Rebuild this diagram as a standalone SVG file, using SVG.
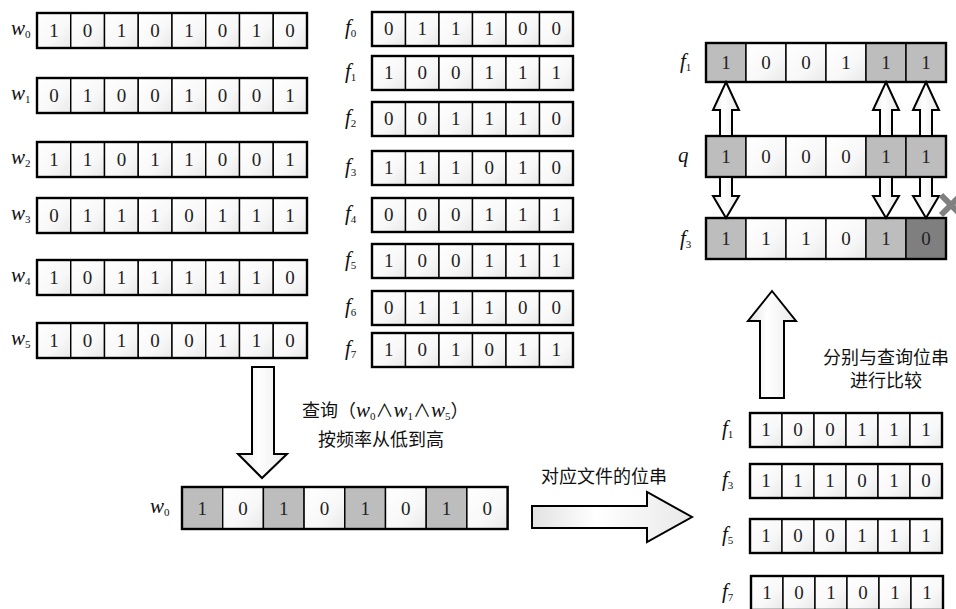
<svg xmlns="http://www.w3.org/2000/svg" xmlns:xlink="http://www.w3.org/1999/xlink" width="956" height="609" viewBox="0 0 956 609">
<style>
.cell{fill:url(#cg);stroke:#000;stroke-width:1.4}
.g1{fill:#bdbdbd;stroke:#000;stroke-width:1.4}
.g2{fill:#7f7f7f;stroke:#000;stroke-width:1.4}
.wc{fill:url(#cg);stroke:#000;stroke-width:1.4}
.frame{fill:none;stroke:#000;stroke-width:2.4}
.d{font-family:"Liberation Serif",serif;font-size:19px;text-anchor:middle;fill:#222}
.lab{font-family:"Liberation Serif",serif;font-style:italic;font-size:21px;fill:#111}
.sub{font-style:normal;font-size:11px}
.cjk{font-family:"Liberation Serif","Noto Sans CJK SC",serif;font-size:18px;fill:#111}
.arrow{fill:url(#ag);stroke:#000;stroke-width:2;stroke-linejoin:miter}
</style>
<defs>
<linearGradient id="cg" x1="0" y1="0" x2="1" y2="1">
<stop offset="0" stop-color="#ffffff"/><stop offset="0.6" stop-color="#f8f8f8"/><stop offset="1" stop-color="#e8e8e8"/>
</linearGradient>
<linearGradient id="ag" x1="0" y1="0" x2="1" y2="0">
<stop offset="0" stop-color="#e2e2e2"/><stop offset="0.4" stop-color="#ffffff"/><stop offset="1" stop-color="#e8e8e8"/>
</linearGradient>
<g id="r8">
<rect class="cell" x="0" y="0" width="33.75" height="35"/><rect class="cell" x="33.75" y="0" width="33.75" height="35"/><rect class="cell" x="67.5" y="0" width="33.75" height="35"/><rect class="cell" x="101.25" y="0" width="33.75" height="35"/><rect class="cell" x="135" y="0" width="33.75" height="35"/><rect class="cell" x="168.75" y="0" width="33.75" height="35"/><rect class="cell" x="202.5" y="0" width="33.75" height="35"/><rect class="cell" x="236.25" y="0" width="33.75" height="35"/>
<rect class="frame" x="0" y="0" width="270" height="35"/>
</g>
<g id="r6a">
<rect class="cell" x="0" y="0" width="33.5" height="34"/><rect class="cell" x="33.5" y="0" width="33.5" height="34"/><rect class="cell" x="67" y="0" width="33.5" height="34"/><rect class="cell" x="100.5" y="0" width="33.5" height="34"/><rect class="cell" x="134" y="0" width="33.5" height="34"/><rect class="cell" x="167.5" y="0" width="33.5" height="34"/>
<rect class="frame" x="0" y="0" width="201" height="34"/>
</g>
<g id="r6b">
<rect class="cell" x="0" y="0" width="32" height="34"/><rect class="cell" x="32" y="0" width="32" height="34"/><rect class="cell" x="64" y="0" width="32" height="34"/><rect class="cell" x="96" y="0" width="32" height="34"/><rect class="cell" x="128" y="0" width="32" height="34"/><rect class="cell" x="160" y="0" width="32" height="34"/>
<rect class="frame" x="0" y="0" width="192" height="34"/>
</g>
</defs>
<rect width="956" height="609" fill="#fff"/>

<!-- left word bit strings -->
<g id="w0">
<text class="lab" x="11" y="35">w<tspan class="sub" dy="3">0</tspan></text>
<use xlink:href="#r8" x="37" y="13"/>
<text class="d" x="53.9" y="37">1</text><text class="d" x="87.6" y="37">0</text><text class="d" x="121.4" y="37">1</text><text class="d" x="155.1" y="37">0</text><text class="d" x="188.9" y="37">1</text><text class="d" x="222.6" y="37">0</text><text class="d" x="256.4" y="37">1</text><text class="d" x="290.1" y="37">0</text>
</g>
<g id="w1">
<text class="lab" x="11" y="100">w<tspan class="sub" dy="3">1</tspan></text>
<use xlink:href="#r8" x="37" y="78"/>
<text class="d" x="53.9" y="102">0</text><text class="d" x="87.6" y="102">1</text><text class="d" x="121.4" y="102">0</text><text class="d" x="155.1" y="102">0</text><text class="d" x="188.9" y="102">1</text><text class="d" x="222.6" y="102">0</text><text class="d" x="256.4" y="102">0</text><text class="d" x="290.1" y="102">1</text>
</g>
<g id="w2">
<text class="lab" x="11" y="164">w<tspan class="sub" dy="3">2</tspan></text>
<use xlink:href="#r8" x="37" y="142"/>
<text class="d" x="53.9" y="166">1</text><text class="d" x="87.6" y="166">1</text><text class="d" x="121.4" y="166">0</text><text class="d" x="155.1" y="166">1</text><text class="d" x="188.9" y="166">1</text><text class="d" x="222.6" y="166">0</text><text class="d" x="256.4" y="166">0</text><text class="d" x="290.1" y="166">1</text>
</g>
<g id="w3">
<text class="lab" x="11" y="220">w<tspan class="sub" dy="3">3</tspan></text>
<use xlink:href="#r8" x="37" y="198"/>
<text class="d" x="53.9" y="222">0</text><text class="d" x="87.6" y="222">1</text><text class="d" x="121.4" y="222">1</text><text class="d" x="155.1" y="222">1</text><text class="d" x="188.9" y="222">0</text><text class="d" x="222.6" y="222">1</text><text class="d" x="256.4" y="222">1</text><text class="d" x="290.1" y="222">1</text>
</g>
<g id="w4">
<text class="lab" x="11" y="282">w<tspan class="sub" dy="3">4</tspan></text>
<use xlink:href="#r8" x="37" y="260"/>
<text class="d" x="53.9" y="284">1</text><text class="d" x="87.6" y="284">0</text><text class="d" x="121.4" y="284">1</text><text class="d" x="155.1" y="284">1</text><text class="d" x="188.9" y="284">1</text><text class="d" x="222.6" y="284">1</text><text class="d" x="256.4" y="284">1</text><text class="d" x="290.1" y="284">0</text>
</g>
<g id="w5">
<text class="lab" x="11" y="345">w<tspan class="sub" dy="3">5</tspan></text>
<use xlink:href="#r8" x="37" y="323"/>
<text class="d" x="53.9" y="347">1</text><text class="d" x="87.6" y="347">0</text><text class="d" x="121.4" y="347">1</text><text class="d" x="155.1" y="347">0</text><text class="d" x="188.9" y="347">0</text><text class="d" x="222.6" y="347">1</text><text class="d" x="256.4" y="347">1</text><text class="d" x="290.1" y="347">0</text>
</g>

<!-- file bit strings -->
<g id="f0">
<text class="lab" x="345" y="34">f<tspan class="sub" dy="3">0</tspan></text>
<use xlink:href="#r6a" x="372" y="12"/>
<text class="d" x="388.75" y="35">0</text><text class="d" x="422.25" y="35">1</text><text class="d" x="455.75" y="35">1</text><text class="d" x="489.25" y="35">1</text><text class="d" x="522.75" y="35">0</text><text class="d" x="556.25" y="35">0</text>
</g>
<g id="f1">
<text class="lab" x="345" y="78">f<tspan class="sub" dy="3">1</tspan></text>
<use xlink:href="#r6a" x="372" y="56"/>
<text class="d" x="388.75" y="79">1</text><text class="d" x="422.25" y="79">0</text><text class="d" x="455.75" y="79">0</text><text class="d" x="489.25" y="79">1</text><text class="d" x="522.75" y="79">1</text><text class="d" x="556.25" y="79">1</text>
</g>
<g id="f2">
<text class="lab" x="345" y="124">f<tspan class="sub" dy="3">2</tspan></text>
<use xlink:href="#r6a" x="372" y="102"/>
<text class="d" x="388.75" y="125">0</text><text class="d" x="422.25" y="125">0</text><text class="d" x="455.75" y="125">1</text><text class="d" x="489.25" y="125">1</text><text class="d" x="522.75" y="125">1</text><text class="d" x="556.25" y="125">0</text>
</g>
<g id="f3">
<text class="lab" x="345" y="173">f<tspan class="sub" dy="3">3</tspan></text>
<use xlink:href="#r6a" x="372" y="151"/>
<text class="d" x="388.75" y="174">1</text><text class="d" x="422.25" y="174">1</text><text class="d" x="455.75" y="174">1</text><text class="d" x="489.25" y="174">0</text><text class="d" x="522.75" y="174">1</text><text class="d" x="556.25" y="174">0</text>
</g>
<g id="f4">
<text class="lab" x="345" y="220">f<tspan class="sub" dy="3">4</tspan></text>
<use xlink:href="#r6a" x="372" y="198"/>
<text class="d" x="388.75" y="221">0</text><text class="d" x="422.25" y="221">0</text><text class="d" x="455.75" y="221">0</text><text class="d" x="489.25" y="221">1</text><text class="d" x="522.75" y="221">1</text><text class="d" x="556.25" y="221">1</text>
</g>
<g id="f5">
<text class="lab" x="345" y="266">f<tspan class="sub" dy="3">5</tspan></text>
<use xlink:href="#r6a" x="372" y="244"/>
<text class="d" x="388.75" y="267">1</text><text class="d" x="422.25" y="267">0</text><text class="d" x="455.75" y="267">0</text><text class="d" x="489.25" y="267">1</text><text class="d" x="522.75" y="267">1</text><text class="d" x="556.25" y="267">1</text>
</g>
<g id="f6">
<text class="lab" x="345" y="313">f<tspan class="sub" dy="3">6</tspan></text>
<use xlink:href="#r6a" x="372" y="291"/>
<text class="d" x="388.75" y="314">0</text><text class="d" x="422.25" y="314">1</text><text class="d" x="455.75" y="314">1</text><text class="d" x="489.25" y="314">1</text><text class="d" x="522.75" y="314">0</text><text class="d" x="556.25" y="314">0</text>
</g>
<g id="f7">
<text class="lab" x="345" y="355">f<tspan class="sub" dy="3">7</tspan></text>
<use xlink:href="#r6a" x="372" y="333"/>
<text class="d" x="388.75" y="356">1</text><text class="d" x="422.25" y="356">0</text><text class="d" x="455.75" y="356">1</text><text class="d" x="489.25" y="356">0</text><text class="d" x="522.75" y="356">1</text><text class="d" x="556.25" y="356">1</text>
</g>

<!-- query bit string w0 -->
<g id="qw0">
<text class="lab" x="150" y="513">w<tspan class="sub" dy="3">0</tspan></text>
<rect class="g1" x="182" y="487" width="40.7" height="42"/><rect class="wc" x="222.7" y="487" width="40.7" height="42"/><rect class="g1" x="263.4" y="487" width="40.7" height="42"/><rect class="wc" x="304.1" y="487" width="40.7" height="42"/><rect class="g1" x="344.8" y="487" width="40.7" height="42"/><rect class="wc" x="385.5" y="487" width="40.7" height="42"/><rect class="g1" x="426.2" y="487" width="40.7" height="42"/><rect class="wc" x="466.9" y="487" width="40.7" height="42"/>
<rect class="frame" x="182" y="487" width="325.6" height="42"/>
<text class="d" x="202.35" y="515">1</text><text class="d" x="243.05" y="515">0</text><text class="d" x="283.75" y="515">1</text><text class="d" x="324.45" y="515">0</text><text class="d" x="365.15" y="515">1</text><text class="d" x="405.85" y="515">0</text><text class="d" x="446.55" y="515">1</text><text class="d" x="487.25" y="515">0</text>
</g>

<!-- candidate file bit strings -->
<g id="cf1">
<text class="lab" x="722" y="435">f<tspan class="sub" dy="3">1</tspan></text>
<use xlink:href="#r6b" x="750" y="413"/>
<text class="d" x="766" y="436">1</text><text class="d" x="798" y="436">0</text><text class="d" x="830" y="436">0</text><text class="d" x="862" y="436">1</text><text class="d" x="894" y="436">1</text><text class="d" x="926" y="436">1</text>
</g>
<g id="cf3">
<text class="lab" x="722" y="486">f<tspan class="sub" dy="3">3</tspan></text>
<use xlink:href="#r6b" x="750" y="464"/>
<text class="d" x="766" y="487">1</text><text class="d" x="798" y="487">1</text><text class="d" x="830" y="487">1</text><text class="d" x="862" y="487">0</text><text class="d" x="894" y="487">1</text><text class="d" x="926" y="487">0</text>
</g>
<g id="cf5">
<text class="lab" x="722" y="541">f<tspan class="sub" dy="3">5</tspan></text>
<use xlink:href="#r6b" x="750" y="519"/>
<text class="d" x="766" y="542">1</text><text class="d" x="798" y="542">0</text><text class="d" x="830" y="542">0</text><text class="d" x="862" y="542">1</text><text class="d" x="894" y="542">1</text><text class="d" x="926" y="542">1</text>
</g>
<g id="cf7">
<text class="lab" x="722" y="598">f<tspan class="sub" dy="3">7</tspan></text>
<use xlink:href="#r6b" x="751" y="576"/>
<text class="d" x="767" y="599">1</text><text class="d" x="799" y="599">0</text><text class="d" x="831" y="599">1</text><text class="d" x="863" y="599">0</text><text class="d" x="895" y="599">1</text><text class="d" x="927" y="599">1</text>
</g>

<!-- comparison panel -->
<g id="pf1">
<text class="lab" x="680" y="68">f<tspan class="sub" dy="3">1</tspan></text>
<rect class="g1" x="706" y="43" width="40" height="39"/><rect class="wc" x="746" y="43" width="40" height="39"/><rect class="wc" x="786" y="43" width="40" height="39"/><rect class="wc" x="826" y="43" width="40" height="39"/><rect class="g1" x="866" y="43" width="40" height="39"/><rect class="g1" x="906" y="43" width="40" height="39"/>
<rect class="frame" x="706" y="43" width="240" height="39"/>
<text class="d" x="726" y="69">1</text><text class="d" x="766" y="69">0</text><text class="d" x="806" y="69">0</text><text class="d" x="846" y="69">1</text><text class="d" x="886" y="69">1</text><text class="d" x="926" y="69">1</text>
</g>
<g id="pq">
<text class="lab" x="678" y="162">q</text>
<rect class="g1" x="706" y="136" width="40" height="41"/><rect class="wc" x="746" y="136" width="40" height="41"/><rect class="wc" x="786" y="136" width="40" height="41"/><rect class="wc" x="826" y="136" width="40" height="41"/><rect class="g1" x="866" y="136" width="40" height="41"/><rect class="g1" x="906" y="136" width="40" height="41"/>
<rect class="frame" x="706" y="136" width="240" height="41"/>
<text class="d" x="726" y="163">1</text><text class="d" x="766" y="163">0</text><text class="d" x="806" y="163">0</text><text class="d" x="846" y="163">0</text><text class="d" x="886" y="163">1</text><text class="d" x="926" y="163">1</text>
</g>
<g id="pf3">
<text class="lab" x="680" y="245">f<tspan class="sub" dy="3">3</tspan></text>
<rect class="g1" x="706" y="218" width="40" height="41"/><rect class="wc" x="746" y="218" width="40" height="41"/><rect class="wc" x="786" y="218" width="40" height="41"/><rect class="wc" x="826" y="218" width="40" height="41"/><rect class="g1" x="866" y="218" width="40" height="41"/><rect class="g2" x="906" y="218" width="40" height="41"/>
<rect class="frame" x="706" y="218" width="240" height="41"/>
<text class="d" x="726" y="245">1</text><text class="d" x="766" y="245">1</text><text class="d" x="806" y="245">1</text><text class="d" x="846" y="245">0</text><text class="d" x="886" y="245">1</text><text class="d" x="926" y="245">0</text>
</g>

<!-- connectors -->
<g id="connectors">
<polygon class="arrow" points="252,367 274,367 274,454 287,454 262,478 238,454 252,454"/>
<polygon class="arrow" points="532,506 647,506 647,492 692,517 647,542 647,528 532,528"/>
<polygon class="arrow" points="772,291 796,321 784,321 784,398 760,398 760,321 748,321"/>
<polygon class="arrow" points="726,82 739,110 732,110 732,136 720,136 720,110 713,110"/>
<polygon class="arrow" points="886,82 899,110 892,110 892,136 880,136 880,110 873,110"/>
<polygon class="arrow" points="926,82 939,110 932,110 932,136 920,136 920,110 913,110"/>
<polygon class="arrow" points="720,177 732,177 732,196 739,196 726,218 713,196 720,196"/>
<polygon class="arrow" points="880,177 892,177 892,196 899,196 886,218 873,196 880,196"/>
<polygon class="arrow" points="920,177 932,177 932,196 939,196 926,218 913,196 920,196"/>
</g>

<!-- mismatch mark -->
<g id="mark" stroke="#808080" stroke-width="6">
<line x1="941" y1="195" x2="961" y2="215"/>
<line x1="941" y1="215" x2="961" y2="195"/>
</g>

<!-- annotations -->
<g id="notes">
<text class="cjk" x="302" y="417">查询（<tspan class="lab" font-size="19">w</tspan><tspan class="sub" font-family="Liberation Serif" dy="3">0</tspan><tspan dy="-3">∧</tspan><tspan class="lab" font-size="19">w</tspan><tspan class="sub" font-family="Liberation Serif" dy="3">1</tspan><tspan dy="-3">∧</tspan><tspan class="lab" font-size="19">w</tspan><tspan class="sub" font-family="Liberation Serif" dy="3">5</tspan><tspan dy="-3">）</tspan></text>
<text class="cjk" x="381" y="446" text-anchor="middle">按频率从低到高</text>
<text class="cjk" x="604" y="483" text-anchor="middle" style="font-family:'Noto Sans CJK SC',sans-serif">对应文件的位串</text>
<text class="cjk" x="886" y="364" text-anchor="middle">分别与查询位串</text>
<text class="cjk" x="886" y="387" text-anchor="middle">进行比较</text>
</g>
</svg>
